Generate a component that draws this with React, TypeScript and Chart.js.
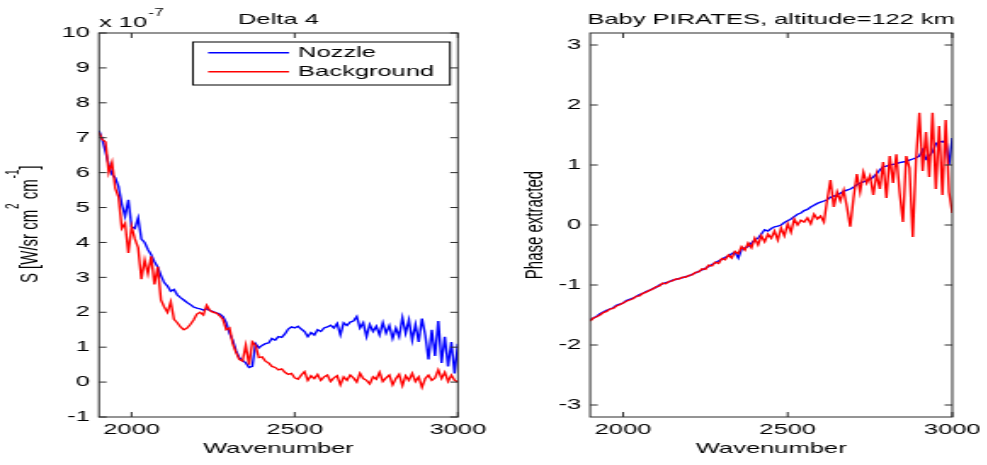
import React, { useEffect, useRef } from 'react';
import { Chart, registerables } from 'chart.js';

Chart.register(...registerables);

// Spectral grid (cm^-1) shared by every series
const WAVENUMBER = [
  1900, 1910, 1920, 1930, 1940, 1950, 1960, 1970, 1980, 1990,
  2000, 2010, 2020, 2030, 2040, 2050, 2060, 2070, 2080, 2090,
  2100, 2110, 2120, 2130, 2140, 2150, 2160, 2170, 2180, 2190,
  2200, 2210, 2220, 2230, 2240, 2250, 2260, 2270, 2280, 2290,
  2300, 2310, 2320, 2330, 2340, 2350, 2360, 2370, 2380, 2390,
  2400, 2410, 2420, 2430, 2440, 2450, 2460, 2470, 2480, 2490,
  2500, 2510, 2520, 2530, 2540, 2550, 2560, 2570, 2580, 2590,
  2600, 2610, 2620, 2630, 2640, 2650, 2660, 2670, 2680, 2690,
  2700, 2710, 2720, 2730, 2740, 2750, 2760, 2770, 2780, 2790,
  2800, 2810, 2820, 2830, 2840, 2850, 2860, 2870, 2880, 2890,
  2900, 2910, 2920, 2930, 2940, 2950, 2960, 2970, 2980, 2990,
  3000,
];

// Delta 4 radiance, in units of 1e-7 W/sr cm^2 cm^-1
const NOZZLE_S = [
  7.20, 6.95, 6.60, 6.22, 5.95, 5.85, 5.60, 5.10, 4.75, 5.22,
  4.45, 4.40, 4.70, 4.10, 4.00, 3.80, 3.65, 3.45, 3.30, 3.05,
  2.85, 2.75, 2.60, 2.65, 2.50, 2.42, 2.35, 2.28, 2.22, 2.15,
  2.12, 2.10, 2.06, 2.10, 2.05, 2.02, 1.98, 1.95, 1.88, 1.70,
  1.40, 1.20, 0.90, 0.70, 0.62, 0.55, 0.42, 0.45, 1.10, 0.98,
  1.05, 1.10, 1.12, 1.25, 1.20, 1.30, 1.28, 1.38, 1.52, 1.58,
  1.55, 1.60, 1.52, 1.45, 1.30, 1.42, 1.35, 1.50, 1.45, 1.55,
  1.58, 1.63, 1.55, 1.68, 1.35, 1.70, 1.62, 1.72, 1.75, 1.88,
  1.55, 1.70, 1.30, 1.65, 1.45, 1.60, 1.35, 1.70, 1.40, 1.62,
  1.25, 1.55, 1.30, 1.85, 1.40, 1.78, 1.20, 1.65, 1.15, 1.82,
  1.35, 0.65, 1.50, 0.75, 1.75, 0.55, 1.30, 0.45, 1.15, 0.25,
  1.10,
];

const BACKGROUND_S = [
  7.15, 6.95, 6.88, 6.00, 6.30, 5.55, 5.30, 4.40, 4.55, 3.70,
  4.45, 4.10, 3.85, 2.95, 3.50, 3.10, 3.60, 2.80, 3.30, 2.35,
  2.15, 2.00, 2.30, 1.80, 1.70, 1.58, 1.50, 1.55, 1.65, 1.78,
  1.95, 2.00, 1.92, 2.20, 2.05, 2.00, 1.98, 1.90, 1.80, 1.50,
  1.55, 1.10, 0.85, 0.65, 0.60, 1.05, 0.50, 1.15, 1.05, 0.70,
  0.72, 0.60, 0.55, 0.45, 0.42, 0.35, 0.38, 0.28, 0.22, 0.25,
  0.12, 0.08, 0.20, 0.30, 0.05, 0.18, 0.10, 0.22, 0.05, 0.15,
  0.20, 0.02, 0.12, 0.18, -0.08, 0.15, 0.05, 0.20, 0.12, 0.00,
  0.25, 0.10, 0.05, -0.05, 0.15, 0.08, 0.28, 0.02, 0.12, 0.20,
  -0.08, 0.10, 0.22, -0.10, 0.18, 0.05, 0.25, 0.02, 0.15, -0.15,
  0.10, 0.20, 0.05, 0.12, 0.35, 0.10, 0.28, 0.02, 0.20, 0.05,
  0.00,
];

// Baby PIRATES extracted phase at 122 km (radians)
const NOZZLE_PHASE = [
  -1.58, -1.55, -1.52, -1.48, -1.45, -1.42, -1.40, -1.38, -1.34, -1.32,
  -1.30, -1.26, -1.24, -1.22, -1.19, -1.16, -1.14, -1.11, -1.09, -1.06,
  -1.04, -1.00, -0.98, -0.96, -0.95, -0.92, -0.91, -0.89, -0.88, -0.86,
  -0.85, -0.82, -0.80, -0.77, -0.75, -0.72, -0.69, -0.66, -0.63, -0.60,
  -0.57, -0.54, -0.52, -0.48, -0.45, -0.55, -0.40, -0.38, -0.36, -0.30,
  -0.25, -0.22, -0.15, -0.08, -0.10, -0.06, -0.03, -0.02, 0.00, 0.04,
  0.07, 0.10, 0.14, 0.18, 0.20, 0.24, 0.26, 0.30, 0.33, 0.36,
  0.38, 0.40, 0.42, 0.46, 0.48, 0.50, 0.53, 0.56, 0.58, 0.60,
  0.63, 0.67, 0.70, 0.72, 0.74, 0.76, 0.80, 0.85, 0.92, 0.97,
  0.98, 1.00, 1.01, 1.02, 1.04, 1.05, 1.06, 1.08, 1.10, 1.12,
  1.15, 1.25, 1.10, 1.15, 1.22, 1.35, 1.40, 1.38, 1.42, 1.00,
  1.45,
];

const BACKGROUND_PHASE = [
  -1.60, -1.55, -1.53, -1.50, -1.46, -1.44, -1.40, -1.39, -1.35, -1.33,
  -1.30, -1.27, -1.25, -1.23, -1.19, -1.18, -1.14, -1.12, -1.09, -1.07,
  -1.03, -1.02, -0.97, -0.98, -0.94, -0.93, -0.90, -0.90, -0.87, -0.87,
  -0.84, -0.83, -0.79, -0.78, -0.73, -0.74, -0.67, -0.68, -0.62, -0.64,
  -0.56, -0.58, -0.50, -0.55, -0.44, -0.48, -0.36, -0.42, -0.30, -0.38,
  -0.22, -0.33, -0.18, -0.28, -0.15, -0.22, -0.10, -0.25, -0.05, -0.18,
  0.02, -0.12, 0.10, 0.00, 0.08, 0.05, 0.12, 0.02, 0.18, 0.10,
  0.15, 0.05, 0.42, 0.75, 0.30, 0.55, 0.40, 0.58, 0.30, -0.03,
  0.45, 0.85, 0.55, 0.88, 0.70, 0.82, 0.50, 0.85, 0.60, 1.05,
  0.45, 1.15, 0.70, 1.18, 0.55, 0.05, 1.15, 0.95, -0.20, 1.10,
  1.87, 0.90, 1.55, 0.80, 1.87, 0.60, 1.65, 0.50, 1.75, 0.55,
  0.20,
];

const X_TICKS = [2000, 2500, 3000];
const S_TICKS = [-1, 0, 1, 2, 3, 4, 5, 6, 7, 8, 9, 10];
const PHASE_TICKS = [-3, -2, -1, 0, 1, 2, 3];

const X_MIN = 1900;
const X_MAX = 3000;

// The figure is drawn narrow and widened by CSS, giving the wide glyph look
const STRETCH = 1.7;
const H = 465;
const PLOT_TOP = 33;
const PLOT_BOTTOM = 417;
const FONT = '"Liberation Sans", Arial, Helvetica, sans-serif';
const FONT_SIZE = 15;
const SUP_SIZE = 10;
const SUP_RISE = 11;
const INK = '#000000';
const AXIS_INK = '#2a2a2a';
const NOZZLE_COLOR = '#0000ff';
const BACKGROUND_COLOR = '#ff0000';
const LINE_WIDTH = 1.4;
const TICK_LEN_X = 4.5;
const TICK_LEN_Y = 5;

type Seg = { text: string; sup?: boolean };

interface PanelSpec {
  canvasW: number;
  screenLeft: number;
  plotLeft: number;
  plotRight: number;
  yMin: number;
  yMax: number;
  yTicks: number[];
  nozzle: number[];
  background: number[];
  title: string;
  yTitle: Seg[];
  yTitleBaseline: number;
  exponent?: Seg[];
  legend?: boolean;
}

function segFont(s: Seg) {
  return `${s.sup ? SUP_SIZE : FONT_SIZE}px ${FONT}`;
}

// Draws a run of text with raised superscript pieces, starting at (x, y)
function drawRuns(ctx: CanvasRenderingContext2D, segs: Seg[], x: number, y: number, centered: boolean) {
  const widths = segs.map((s) => {
    ctx.font = segFont(s);
    return ctx.measureText(s.text).width;
  });
  const total = widths.reduce((a, b) => a + b, 0);
  let cx = centered ? x - total / 2 : x;
  ctx.textAlign = 'left';
  ctx.textBaseline = 'alphabetic';
  segs.forEach((s, i) => {
    ctx.font = segFont(s);
    ctx.fillText(s.text, cx + (s.sup ? 0.8 : 0), s.sup ? y - SUP_RISE : y);
    cx += widths[i] + (s.sup ? 0.8 : 0);
  });
}

function decorPlugin(p: PanelSpec) {
  return {
    id: 'figureDecor',
    afterDraw(chart: any) {
      const { ctx, chartArea } = chart;
      const { left, right, top, bottom } = chartArea;
      const xs = chart.scales.x;
      const ys = chart.scales.y;
      ctx.save();

      // axes box with inward ticks on all four sides
      ctx.strokeStyle = AXIS_INK;
      ctx.lineWidth = 1;
      ctx.strokeRect(left, top, right - left, bottom - top);
      ctx.beginPath();
      xs.ticks.forEach((t: any) => {
        const px = xs.getPixelForValue(t.value);
        ctx.moveTo(px, bottom);
        ctx.lineTo(px, bottom - TICK_LEN_Y);
        ctx.moveTo(px, top);
        ctx.lineTo(px, top + TICK_LEN_Y);
      });
      ys.ticks.forEach((t: any) => {
        const py = ys.getPixelForValue(t.value);
        ctx.moveTo(left, py);
        ctx.lineTo(left + TICK_LEN_X, py);
        ctx.moveTo(right, py);
        ctx.lineTo(right - TICK_LEN_X, py);
      });
      ctx.stroke();

      ctx.fillStyle = INK;

      // panel title
      ctx.font = `${FONT_SIZE}px ${FONT}`;
      ctx.textAlign = 'center';
      ctx.textBaseline = 'alphabetic';
      ctx.fillText(p.title, (left + right) / 2, 23.5);

      // axis multiplier
      if (p.exponent) drawRuns(ctx, p.exponent, left, 26.5, false);

      // rotated y-axis title
      ctx.save();
      ctx.translate(p.yTitleBaseline, (top + bottom) / 2);
      ctx.rotate(-Math.PI / 2);
      drawRuns(ctx, p.yTitle, 0, 0, true);
      ctx.restore();

      // boxed legend
      if (p.legend) {
        const bx = 113.5, by = 42, bw = 151.2, bh = 43;
        ctx.fillStyle = '#ffffff';
        ctx.fillRect(bx, by, bw, bh);
        ctx.strokeStyle = INK;
        ctx.lineWidth = 1;
        ctx.strokeRect(bx, by, bw, bh);
        const rows = chart.data.datasets.map((d: any) => ({ label: d.label, color: d.borderColor }));
        const rowY = [52.7, 71.7];
        rows.forEach((r: any, i: number) => {
          ctx.strokeStyle = r.color;
          ctx.lineWidth = LINE_WIDTH;
          ctx.beginPath();
          ctx.moveTo(122.4, rowY[i]);
          ctx.lineTo(170, rowY[i]);
          ctx.stroke();
          ctx.fillStyle = INK;
          ctx.font = `${FONT_SIZE}px ${FONT}`;
          ctx.textAlign = 'left';
          ctx.textBaseline = 'middle';
          ctx.fillText(r.label, 175.3, rowY[i]);
        });
      }
      ctx.restore();
    },
  };
}

function buildConfig(p: PanelSpec): any {
  const toPoints = (ys: number[]) => WAVENUMBER.map((x, i) => ({ x, y: ys[i] }));
  const tickFont = { family: FONT, size: FONT_SIZE };
  const plain = (v: any) => String(v);
  return {
    type: 'line',
    data: {
      datasets: [
        {
          label: 'Nozzle',
          data: toPoints(p.nozzle),
          borderColor: NOZZLE_COLOR,
          backgroundColor: NOZZLE_COLOR,
          borderWidth: LINE_WIDTH,
          pointRadius: 0,
          tension: 0,
          order: 2,
        },
        {
          label: 'Background',
          data: toPoints(p.background),
          borderColor: BACKGROUND_COLOR,
          backgroundColor: BACKGROUND_COLOR,
          borderWidth: LINE_WIDTH,
          pointRadius: 0,
          tension: 0,
          order: 1,
        },
      ],
    },
    options: {
      responsive: false,
      animation: false,
      devicePixelRatio: 1,
      events: [],
      layout: { padding: { left: 0, top: PLOT_TOP, right: p.canvasW - p.plotRight, bottom: 0 } },
      plugins: { legend: { display: false }, tooltip: { enabled: false }, title: { display: false } },
      scales: {
        x: {
          type: 'linear',
          min: X_MIN,
          max: X_MAX,
          afterBuildTicks: (s: any) => {
            s.ticks = X_TICKS.map((value) => ({ value }));
          },
          afterFit: (s: any) => {
            s.height = H - PLOT_BOTTOM;
          },
          grid: { display: false, drawTicks: false },
          border: { display: false },
          ticks: { color: INK, font: tickFont, padding: 4, maxRotation: 0, autoSkip: false, callback: plain },
          title: {
            display: true,
            text: 'Wavenumber',
            color: INK,
            font: tickFont,
            padding: { top: 0, bottom: 7 },
          },
        },
        y: {
          type: 'linear',
          min: p.yMin,
          max: p.yMax,
          afterBuildTicks: (s: any) => {
            s.ticks = p.yTicks.map((value) => ({ value }));
          },
          afterFit: (s: any) => {
            s.width = p.plotLeft;
          },
          grid: { display: false, drawTicks: false },
          border: { display: false },
          ticks: { color: INK, font: tickFont, padding: 5.3, autoSkip: false, callback: plain },
        },
      },
    },
    plugins: [decorPlugin(p)],
  };
}

const LEFT_PANEL: PanelSpec = {
  canvasW: 290,
  screenLeft: 0,
  plotLeft: 58.2,
  plotRight: 271.2,
  yMin: -1,
  yMax: 10,
  yTicks: S_TICKS,
  nozzle: NOZZLE_S,
  background: BACKGROUND_S,
  title: 'Delta 4',
  yTitle: [
    { text: 'S [W/sr cm' },
    { text: '2', sup: true },
    { text: ' cm' },
    { text: '-1', sup: true },
    { text: ']' },
  ],
  yTitleBaseline: 22.3,
  exponent: [{ text: 'x 10' }, { text: '-7', sup: true }],
  legend: true,
};

const RIGHT_PANEL: PanelSpec = {
  canvasW: 291,
  screenLeft: 493,
  plotLeft: 57.1,
  plotRight: 270.0,
  yMin: -3.2,
  yMax: 3.2,
  yTicks: PHASE_TICKS,
  nozzle: NOZZLE_PHASE,
  background: BACKGROUND_PHASE,
  title: 'Baby PIRATES, altitude=122 km',
  yTitle: [{ text: 'Phase extracted' }],
  yTitleBaseline: 28.8,
};

function Panel({ spec }: { spec: PanelSpec }) {
  const ref = useRef<HTMLCanvasElement | null>(null);
  useEffect(() => {
    const canvas = ref.current;
    if (!canvas) return;
    const chart = new Chart(canvas, buildConfig(spec));
    return () => chart.destroy();
  }, [spec]);
  return (
    <canvas
      ref={ref}
      width={spec.canvasW}
      height={H}
      style={{
        position: 'absolute',
        left: spec.screenLeft,
        top: 0,
        width: spec.canvasW * STRETCH,
        height: H,
        display: 'block',
      }}
    />
  );
}

export default function App() {
  return (
    <div
      style={{
        position: 'fixed',
        left: 0,
        top: 0,
        width: 987,
        height: H,
        background: '#ffffff',
        overflow: 'hidden',
      }}
    >
      <Panel spec={LEFT_PANEL} />
      <Panel spec={RIGHT_PANEL} />
    </div>
  );
}
